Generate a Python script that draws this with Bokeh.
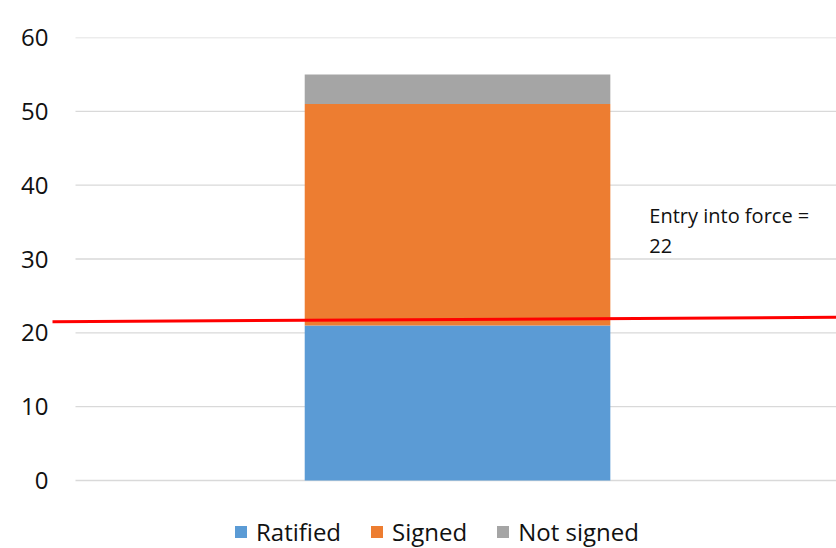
from bokeh.plotting import figure
from bokeh.models import ColumnDataSource, Range1d, Legend, LegendItem, FixedTicker
from bokeh.embed import file_html
from bokeh.resources import INLINE
from bokeh.core.properties import value

# ---- data ----
series = ["Ratified", "Signed", "Not signed"]
colors = ["#5B9BD5", "#ED7D31", "#A5A5A5"]
ratified = [21]
signed = [30]
not_signed = [4]
y_ticks = [0, 10, 20, 30, 40, 50, 60]
threshold_x = [-0.05, 1.0]
threshold_y = [21.5, 22.1]
note_lines = ["Entry into force =", "22"]
note_y = [35.9, 31.8]

FONT = "Open Sans"
TXT = "#111111"

# layout: value axis spans 443 px for 0..60; frame extends 68 px below zero
Y_MAX = 60
y_start = -68 * Y_MAX / 443

src = ColumnDataSource(dict(x=[0.5], Ratified=ratified, Signed=signed,
                            **{"Not signed": not_signed}))

p = figure(width=836, height=548, output_backend="svg", toolbar_location=None,
           x_range=Range1d(-0.0301, 0.996), y_range=Range1d(y_start, Y_MAX),
           min_border_left=52, min_border_right=0, min_border_top=37,
           min_border_bottom=0)
p.outline_line_color = None
p.xaxis.visible = False
p.xgrid.visible = False
p.ygrid.visible = False

# gridlines over the category span
p.segment(x0=[0] * len(y_ticks), x1=[1] * len(y_ticks), y0=y_ticks, y1=y_ticks,
          line_color="#D9D9D9", line_width=1.3)

renderers = p.vbar_stack(series, x="x", width=0.4, color=colors, source=src,
                         line_color=None)

p.line(threshold_x, threshold_y, line_color="#FF0000", line_width=3)

p.text(x=[0.751, 0.751], y=note_y, text=note_lines, text_font=value(FONT),
       text_font_size="20px", text_baseline="middle", text_align="left",
       text_color=TXT)

ax = p.yaxis[0]
ax.ticker = FixedTicker(ticks=y_ticks)
ax.axis_line_color = None
ax.major_tick_line_color = None
ax.minor_tick_line_color = None
ax.major_label_text_font = FONT
ax.major_label_text_font_size = "24px"
ax.major_label_text_color = TXT
ax.major_label_standoff = -2

legend = Legend(items=[LegendItem(label=s, renderers=[r]) for s, r in zip(series, renderers)],
                orientation="horizontal", location=(181, 0),
                label_text_font=FONT, label_text_font_size="24px",
                label_text_color=TXT, glyph_width=15, glyph_height=15,
                label_standoff=8, spacing=28, padding=0, margin=0,
                border_line_color=None, background_fill_alpha=0)
p.add_layout(legend, "center")

open("out.html", "w").write(file_html(p, INLINE))
